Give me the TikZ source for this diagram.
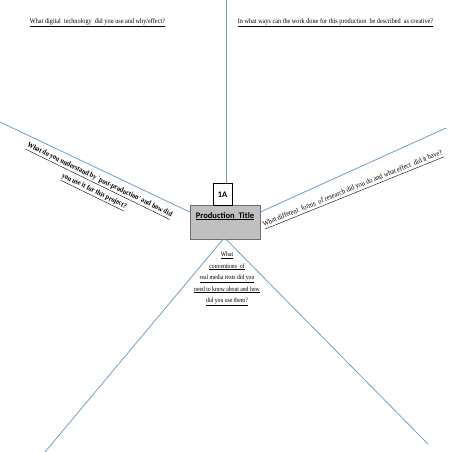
\documentclass[tikz,border=0pt]{standalone}
\usepackage{fontspec}
\setmainfont{Liberation Serif}
\newfontfamily\qfont[FakeStretch=0.89]{Liberation Serif}
\newfontfamily\qnarrow[FakeStretch=0.85]{Liberation Serif}
\newfontfamily\boxfont{Carlito}
\usetikzlibrary{calc}
\definecolor{linecol}{RGB}{112,157,202}
\definecolor{boxfill}{RGB}{192,192,192}
\definecolor{boxline}{RGB}{110,110,110}
\tikzset{
  spoke/.style={draw=linecol, line width=0.8pt},
  question/.style={font=\qfont\fontsize{7}{11.5}\selectfont, align=center, inner sep=0pt},
  bottomq/.style={font=\qnarrow\fontsize{6.7}{11.5}\selectfont, align=center, inner sep=0pt},
  boldq/.style={font=\qnarrow\bfseries\fontsize{7.5}{12.5}\selectfont, align=center, inner sep=0pt},
  titlebox/.style={draw=boxline, fill=boxfill, line width=0.6pt, minimum width=70pt, inner sep=3pt, text height=10pt, text depth=18pt, font=\boxfont\bfseries\fontsize{8.5}{10}\selectfont},
  idbox/.style={draw=black, fill=white, line width=0.5pt, minimum width=19pt, minimum height=22pt, inner sep=0pt, font=\boxfont\bfseries\fontsize{8.5}{10}\selectfont}
}
\begin{document}
\begin{tikzpicture}[x=1pt,y=1pt]
\useasboundingbox (0,0) rectangle (452,-452);
% central boxes
\node[titlebox] (title) at (225,-222) {\underline{Production\ \ Title}};
\node[idbox, anchor=south] (onea) at (222.5,-205.5) {1A};
% spoke ends
\coordinate (topend) at (226,0);
\coordinate (leftend) at (0,-122);
\coordinate (rightend) at (446,-128);
\coordinate (blend) at (45,-452);
\coordinate (brend) at (428,-444);
% spokes
\draw[spoke] (topend) -- (topend |- onea.north);
\draw[spoke] (leftend) -- ([yshift=10pt]title.west);
\draw[spoke] ([yshift=10pt]title.east) -- (rightend);
\draw[spoke] ([xshift=-2pt]title.south) -- (blend);
\draw[spoke] ([xshift=1pt]title.south) -- (brend);
% questions
\node[question] (q1) at (97.5,-23) {\underline{What digital\ \ technology\ \ did you use and why/effect?}};
\node[question] (q2) at (335.5,-23) {\underline{In what ways can the work done for this production\ \ be described\ \ as creative?}};
\node[boldq, rotate=-26] (q3) at (96.5,-186.5) {\underline{What do you understand by `post-production' and how did}\\\underline{you use it for this project?}};
\node[question, font=\qfont\fontsize{7.3}{11.5}\selectfont, rotate=22] (q4) at (353,-189.5) {\underline{What different\ \ forms\ \ of research\ did you do and what effect\ \ did it have?}};
\node[bottomq] (q5) at (227,-279) {\underline{What}\\\underline{conventions\ \ of}\\\underline{real media texts did you}\\\underline{need to know about and how}\\\underline{did you use them?}};
\end{tikzpicture}
\end{document}
